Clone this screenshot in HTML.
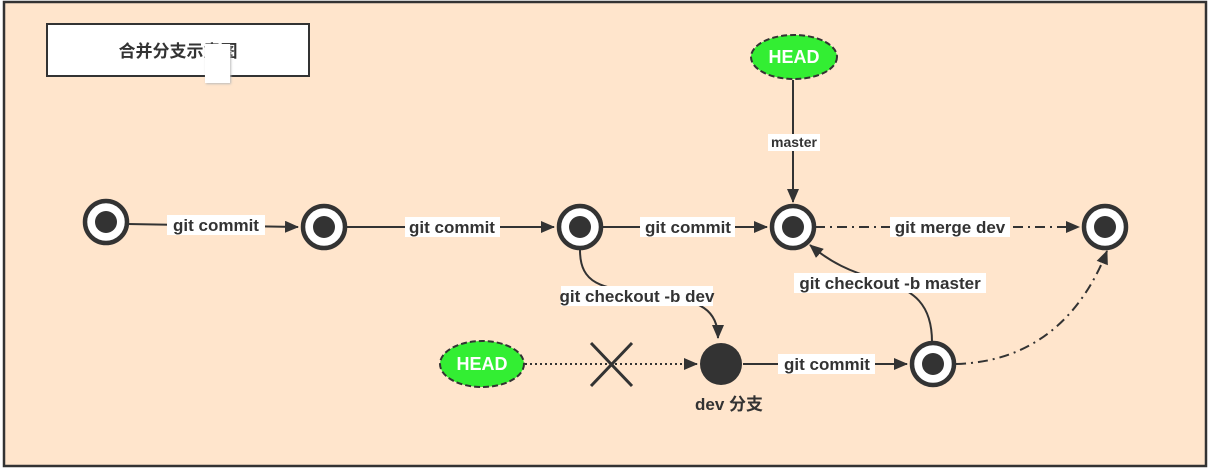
<!DOCTYPE html>
<html><head><meta charset="utf-8"><style>
html,body{margin:0;padding:0;background:#fff;}
svg{display:block;}
text{font-family:"Liberation Sans","Noto Sans CJK SC",sans-serif;font-weight:bold;fill:#333;}
</style></head><body>
<svg width="1210" height="473" viewBox="0 0 1210 473" xmlns="http://www.w3.org/2000/svg">
<defs>
<marker id="b" markerWidth="14" markerHeight="12" refX="13" refY="6" orient="auto" markerUnits="userSpaceOnUse">
<path d="M0,0 L14,6 L0,12 z" fill="#333"/></marker>
</defs>
<rect x="4" y="2" width="1202" height="464" fill="#ffe5cc" stroke="#333" stroke-width="2.5"/>
<rect x="47" y="24" width="262" height="52" fill="#fff" stroke="#333" stroke-width="2"/>
<text x="178" y="57" font-size="17" text-anchor="middle">合并分支示意图</text>
<rect x="205" y="44" width="25" height="39" fill="#fff" style="filter:drop-shadow(1px 1px 1px #bbb)"/>

<line x1="128" y1="224" x2="298" y2="227" stroke="#333" stroke-width="2" marker-end="url(#b)"/>
<line x1="346" y1="227" x2="554" y2="227" stroke="#333" stroke-width="2" marker-end="url(#b)"/>
<line x1="602" y1="227" x2="767" y2="227" stroke="#333" stroke-width="2" marker-end="url(#b)"/>
<line x1="815" y1="227" x2="1079" y2="227" stroke="#333" stroke-width="2" stroke-dasharray="10,5,2,5" marker-end="url(#b)"/>
<line x1="793" y1="80" x2="793" y2="202" stroke="#333" stroke-width="2" marker-end="url(#b)"/>
<path d="M580,250 C580,290 610,288 660,296 C700,300 718,310 718,338" fill="none" stroke="#333" stroke-width="2" marker-end="url(#b)"/>
<path d="M932,342 C932,305 915,290 880,280 C850,272 830,262 810,245" fill="none" stroke="#333" stroke-width="2" marker-end="url(#b)"/>
<path d="M956,364 C1030,362 1080,320 1107,251" fill="none" stroke="#333" stroke-width="2" stroke-dasharray="10,5,2,5" marker-end="url(#b)"/>
<line x1="525" y1="364" x2="697" y2="364" stroke="#333" stroke-width="2" stroke-dasharray="2,3" marker-end="url(#b)"/>
<line x1="743" y1="364" x2="907" y2="364" stroke="#333" stroke-width="2" marker-end="url(#b)"/>

<line x1="591" y1="343" x2="632" y2="386" stroke="#333" stroke-width="3"/>
<line x1="632" y1="343" x2="591" y2="386" stroke="#333" stroke-width="3"/>

<g font-size="17">
<rect x="167" y="215" width="98" height="20" fill="#fff"/><text x="216" y="231" text-anchor="middle">git commit</text>
<rect x="405" y="217" width="95" height="20" fill="#fff"/><text x="452" y="233" text-anchor="middle">git commit</text>
<rect x="640" y="217" width="95" height="20" fill="#fff"/><text x="688" y="233" text-anchor="middle">git commit</text>
<rect x="890" y="217" width="120" height="20" fill="#fff"/><text x="950" y="233" text-anchor="middle">git merge dev</text>
<rect x="561" y="286" width="152" height="20" fill="#fff"/><text x="637" y="302" text-anchor="middle">git checkout -b dev</text>
<rect x="794" y="273" width="192" height="20" fill="#fff"/><text x="890" y="289" text-anchor="middle">git checkout -b master</text>
<rect x="778" y="354" width="97" height="20" fill="#fff"/><text x="827" y="370" text-anchor="middle">git commit</text>
<text x="729" y="410" text-anchor="middle">dev 分支</text>
</g>
<rect x="768" y="134" width="52" height="17" fill="#fff"/><text x="794" y="147" font-size="14" text-anchor="middle">master</text>

<g stroke="#333" stroke-width="4.5" fill="#fff">
<circle cx="106" cy="222" r="21"/><circle cx="324" cy="227" r="21"/><circle cx="580" cy="227" r="21"/>
<circle cx="793" cy="227" r="21"/><circle cx="1105" cy="227" r="21"/><circle cx="933" cy="364" r="21"/>
</g>
<g fill="#333">
<circle cx="106" cy="222" r="11"/><circle cx="324" cy="227" r="11"/><circle cx="580" cy="227" r="11"/>
<circle cx="793" cy="227" r="11"/><circle cx="1105" cy="227" r="11"/><circle cx="933" cy="364" r="11"/>
<circle cx="721" cy="364" r="21"/>
</g>

<ellipse cx="794" cy="57" rx="43" ry="22" fill="#33ee33" stroke="#333" stroke-width="2" stroke-dasharray="6,3"/>
<text x="794" y="63" font-size="18" style="fill:#fff" text-anchor="middle">HEAD</text>
<ellipse cx="482" cy="364" rx="42" ry="23" fill="#33ee33" stroke="#333" stroke-width="2" stroke-dasharray="6,3"/>
<text x="482" y="370" font-size="18" style="fill:#fff" text-anchor="middle">HEAD</text>
</svg>
</body></html>
